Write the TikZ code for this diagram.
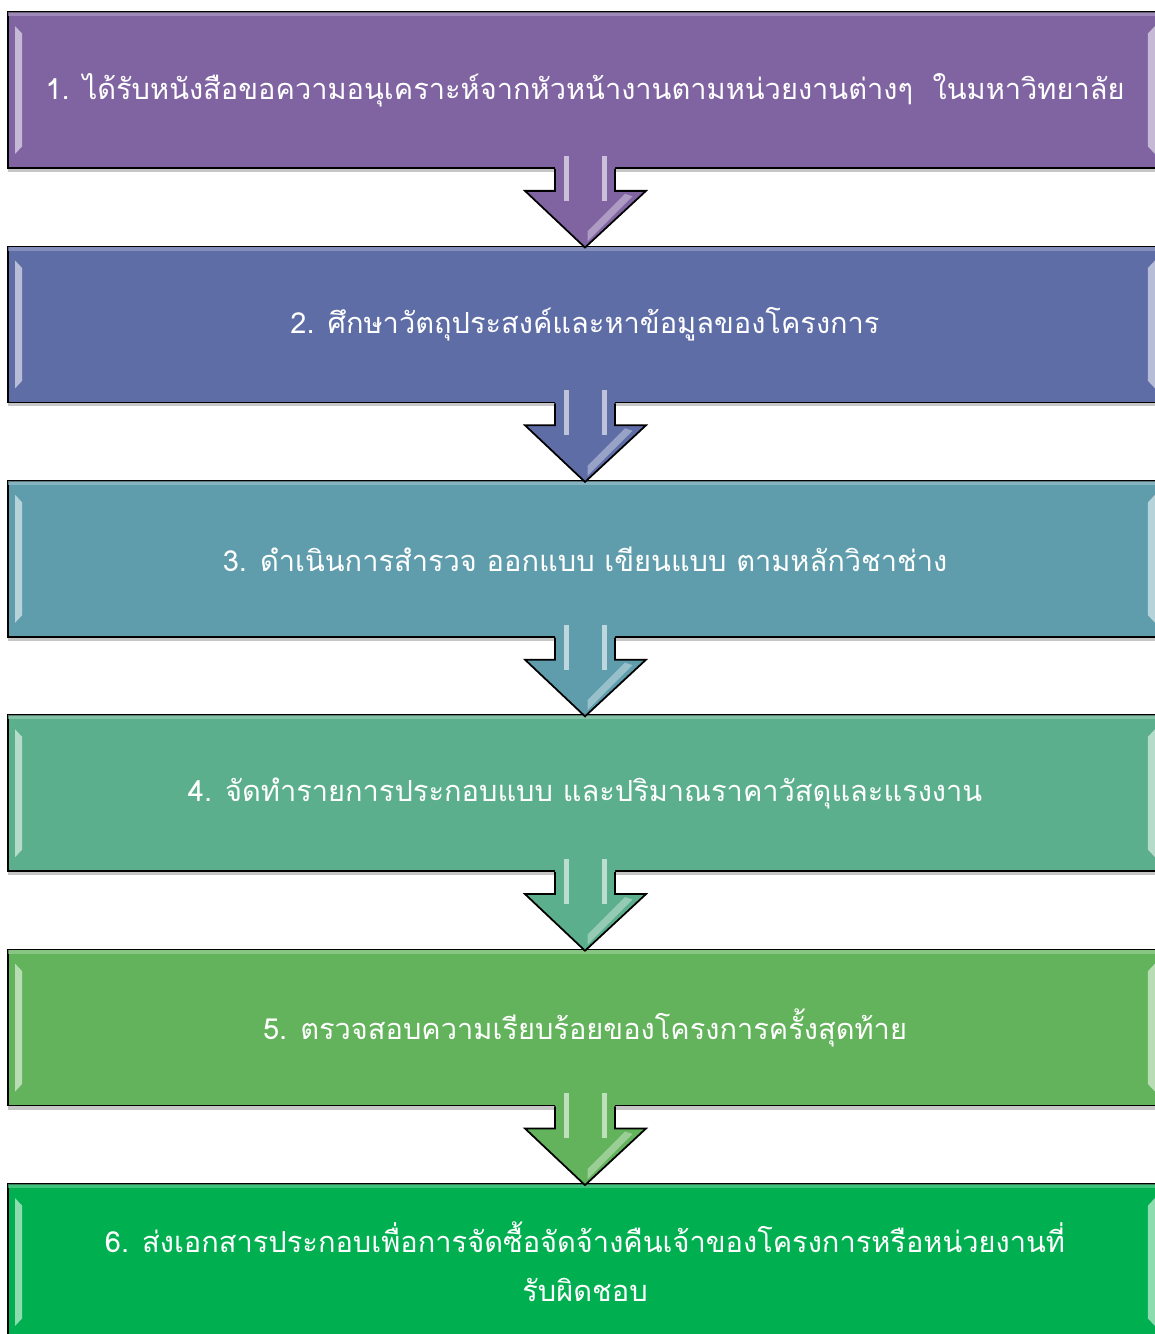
\documentclass[tikz,border=0pt]{standalone}
\usepackage{fontspec}
\newfontfamily\thaifont[Script=Thai]{Loma}
\usetikzlibrary{positioning, calc, shadows}
\usepackage{xcolor}
\definecolor{stepA}{HTML}{8064A2}
\definecolor{stepB}{HTML}{5F6DA7}
\definecolor{stepC}{HTML}{5F9DAD}
\definecolor{stepD}{HTML}{5BAF8C}
\definecolor{stepE}{HTML}{62B35B}
\definecolor{stepF}{HTML}{00B050}
\def\stepsep{4.688}

\begin{document}
\begin{tikzpicture}
    \tikzstyle{stepbox}=[rectangle, draw=black, line width=1pt, minimum width=23.08cm, minimum height=3.12cm, inner sep=0pt, text=white, align=center, font=\thaifont\fontsize{16.5}{28}\selectfont, drop shadow={shadow xshift=0pt, shadow yshift=-0.08cm, opacity=0.45}]
    \tikzstyle{flowline}=[draw=black, line width=1pt, line join=miter]
    \useasboundingbox (0,0) rectangle (23.08,-26.68);

    % Draw the step boxes
    \foreach \name/\col/\txt in {1/stepA/{1. ได้รับหนังสือขอความอนุเคราะห์จากหัวหน้างานตามหน่วยงานต่างๆ \ ในมหาวิทยาลัย},
                                 2/stepB/{2. ศึกษาวัตถุประสงค์และหาข้อมูลของโครงการ},
                                 3/stepC/{3. ดำเนินการสำรวจ ออกแบบ เขียนแบบ ตามหลักวิชาช่าง},
                                 4/stepD/{4. จัดทำรายการประกอบแบบ และปริมาณราคาวัสดุและแรงงาน},
                                 5/stepE/{5. ตรวจสอบความเรียบร้อยของโครงการครั้งสุดท้าย},
                                 6/stepF/{6. ส่งเอกสารประกอบเพื่อการจัดซื้อจัดจ้างคืนเจ้าของโครงการหรือหน่วยงานที่\\รับผิดชอบ}}
        \node[stepbox, fill=\col] (S-\name) at (11.7,{-1.8-\stepsep*(\name-1)}) {\txt};

    % bevel strips inside each box
    \foreach \name/\col in {1/stepA,2/stepB,3/stepC,4/stepD,5/stepE,6/stepF} {
        \fill[\col!45!white] ($(S-\name.north west)+(0.16,-0.3)$) -- ($(S-\name.north west)+(0.3,-0.45)$)
            -- ($(S-\name.south west)+(0.3,0.45)$) -- ($(S-\name.south west)+(0.16,0.3)$) -- cycle;
        \fill[\col!45!white] ($(S-\name.north east)+(-0.16,-0.3)$) -- ($(S-\name.north east)+(-0.3,-0.45)$)
            -- ($(S-\name.south east)+(-0.3,0.45)$) -- ($(S-\name.south east)+(-0.16,0.3)$) -- cycle;
        \fill[\col!60!white, opacity=0.6] ($(S-\name.north west)+(0.02,-0.02)$) rectangle ($(S-\name.north east)+(-0.02,-0.1)$);
    }

    % Connect every box with the next one by a block arrow
    \foreach \source/\dest/\col in {1/2/stepA,2/3/stepB,3/4/stepC,4/5/stepD,5/6/stepE} {
        \fill[\col] ($(S-\source.south)+(-0.6,0.3)$) -- ($(S-\source.south)+(-0.6,-0.44)$)
            -- ($(S-\source.south)+(-1.2,-0.44)$) -- ($(S-\dest.north)+(0,-0.04)$)
            -- ($(S-\source.south)+(1.22,-0.44)$) -- ($(S-\source.south)+(0.6,-0.44)$)
            -- ($(S-\source.south)+(0.6,0.3)$) -- cycle;
        \draw[flowline] ($(S-\source.south)+(-0.6,0)$) -- ($(S-\source.south)+(-0.6,-0.44)$)
            -- ($(S-\source.south)+(-1.2,-0.44)$) -- ($(S-\dest.north)+(0,-0.04)$)
            -- ($(S-\source.south)+(1.22,-0.44)$) -- ($(S-\source.south)+(0.6,-0.44)$)
            -- ($(S-\source.south)+(0.6,0)$);
        % highlight stripes on the shaft
        \fill[\col!30!white, opacity=0.85] ($(S-\source.south)+(-0.42,0.26)$) rectangle ($(S-\source.south)+(-0.32,-0.64)$);
        \fill[\col!30!white, opacity=0.85] ($(S-\source.south)+(0.34,0.26)$) rectangle ($(S-\source.south)+(0.44,-0.64)$);
        \fill[\col!40!white, opacity=0.6] ($(S-\source.south)+(0.95,-0.55)$) -- ($(S-\source.south)+(0.05,-1.45)$)
            -- ($(S-\source.south)+(0.05,-1.25)$) -- ($(S-\source.south)+(0.8,-0.5)$) -- cycle;
    }
\end{tikzpicture}
\end{document}
